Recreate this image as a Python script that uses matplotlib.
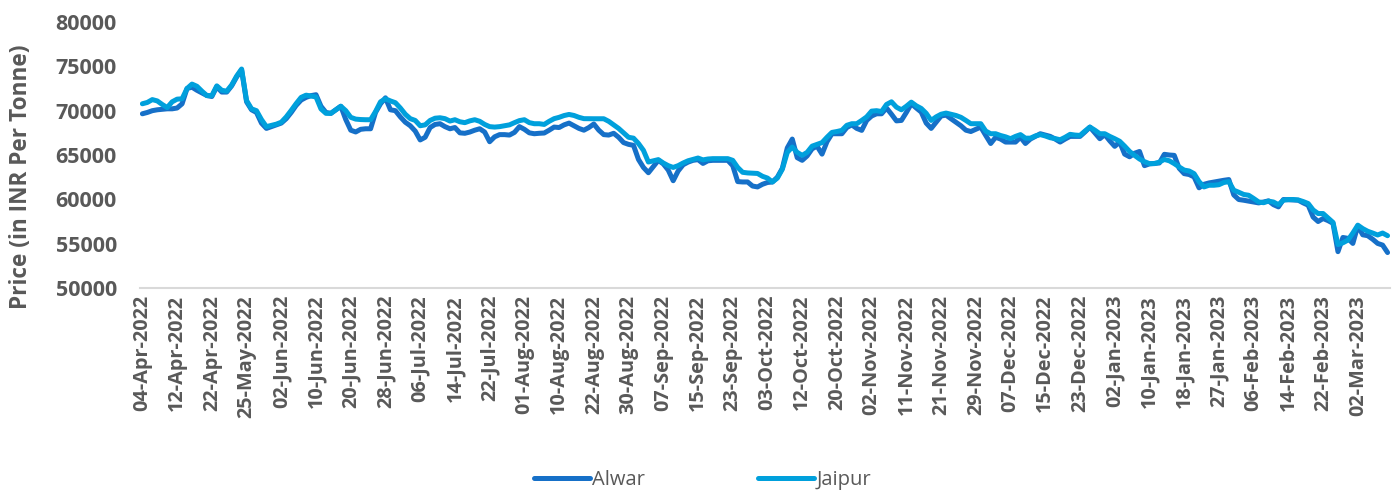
"""
Alwar vs Jaipur daily price, Apr-2022 to Mar-2023 (values read off the reference chart).
"""

import matplotlib
matplotlib.use("Agg")
import matplotlib.pyplot as plt

# ─── Data ─────────────────────────────────────────────────────────────────────
# one value per trading day (252 days), tick labels on every 7th day
TICK_LABELS = [
    "04-Apr-2022", "12-Apr-2022", "22-Apr-2022", "25-May-2022", "02-Jun-2022",
    "10-Jun-2022", "20-Jun-2022", "28-Jun-2022", "06-Jul-2022", "14-Jul-2022",
    "22-Jul-2022", "01-Aug-2022", "10-Aug-2022", "22-Aug-2022", "30-Aug-2022",
    "07-Sep-2022", "15-Sep-2022", "23-Sep-2022", "03-Oct-2022", "12-Oct-2022",
    "20-Oct-2022", "02-Nov-2022", "11-Nov-2022", "21-Nov-2022", "29-Nov-2022",
    "07-Dec-2022", "15-Dec-2022", "23-Dec-2022", "02-Jan-2023", "10-Jan-2023",
    "18-Jan-2023", "27-Jan-2023", "06-Feb-2023", "14-Feb-2023", "22-Feb-2023",
    "02-Mar-2023",
]
TICK_EVERY = 7

alwar = [
    69650, 69800, 70000, 70100, 70150, 70210, 70210, 70300, 70775, 72500,
    72650, 72300, 72000, 71710, 71600, 72700, 72100, 72100, 72800, 73800,
    74600, 71000, 70100, 69800, 68600, 68000, 68200, 68400, 68600, 69100,
    69800, 70600, 71200, 71500, 71700, 71800, 70500, 69800, 69700, 70100,
    70500, 69000, 67800, 67600, 67900, 67960, 67960, 69800, 70780, 71450,
    70100, 70000, 69300, 68700, 68300, 67700, 66700, 67000, 68100, 68450,
    68530, 68200, 67960, 68100, 67500, 67450, 67590, 67800, 67960, 67590,
    66500, 67050, 67300, 67300, 67250, 67550, 68200, 67900, 67500, 67400,
    67450, 67480, 67800, 68150, 68100, 68400, 68600, 68300, 68000, 67800,
    68100, 68500, 67800, 67300, 67250, 67450, 67000, 66400, 66200, 66090,
    64500, 63600, 63000, 63700, 64400, 64000, 63300, 62100, 63200, 63900,
    64200, 64400, 64480, 64050, 64350, 64400, 64400, 64400, 64400, 63800,
    62000, 61960, 61960, 61500, 61400, 61700, 61900, 61960, 62500, 63500,
    65800, 66800, 64700, 64400, 64900, 65700, 66000, 65100, 66500, 67400,
    67400, 67400, 68100, 68400, 68000, 67780, 68900, 69400, 69650, 69650,
    70300, 69600, 68850, 68900, 69800, 70780, 70300, 69840, 68600, 68000,
    68700, 69400, 69500, 69090, 68700, 68300, 67800, 67650, 67900, 68150,
    67210, 66300, 67000, 66800, 66460, 66460, 66460, 67000, 66300, 66800,
    67100, 67400, 67250, 67100, 66800, 66460, 66800, 67100, 67100, 67100,
    67600, 68150, 67500, 66840, 67300, 66600, 65980, 66460, 65100, 64800,
    65200, 65400, 63800, 64000, 64050, 64100, 65080, 65000, 64960, 63500,
    62900, 62800, 62530, 61300, 61700, 61850, 61950, 62050, 62150, 62230,
    60500, 59980, 59900, 59800, 59710, 59600, 59700, 59830, 59400, 59150,
    59980, 59950, 59920, 59900, 59600, 59340, 58000, 57500, 57840, 57600,
    57300, 54100, 55700, 55600, 55030, 57000, 56000, 55900, 55500, 55030,
    54840, 54000,
]

jaipur = [
    70780, 70930, 71250, 71100, 70700, 70350, 71000, 71300, 71340, 72500,
    73000, 72750, 72200, 71700, 71700, 72800, 72300, 72200, 72900, 73900,
    74700, 71150, 70210, 70000, 69000, 68200, 68340, 68480, 68700, 69300,
    70030, 70800, 71500, 71750, 71650, 71550, 70200, 69700, 69700, 70100,
    70500, 70000, 69250, 69050, 69000, 68980, 68980, 69900, 71000, 71340,
    71100, 70900, 70300, 69600, 69100, 68900, 68300, 68400, 68900, 69150,
    69200, 69100, 68830, 68980, 68750, 68650, 68850, 68980, 68800, 68450,
    68200, 68150, 68200, 68300, 68400, 68650, 68880, 68980, 68650, 68530,
    68530, 68450, 68800, 69100, 69250, 69450, 69575, 69460, 69250, 69100,
    69090, 69090, 69090, 69090, 68800, 68400, 68000, 67500, 67000, 66900,
    66300, 65530, 64210, 64350, 64480, 64100, 63800, 63600, 63800, 64100,
    64350, 64500, 64660, 64450, 64550, 64590, 64590, 64590, 64590, 64400,
    63600, 63050, 62980, 62950, 62920, 62600, 62400, 61960, 62400, 63400,
    65300, 65900, 65300, 64960, 65300, 66000, 66200, 66400, 67000, 67550,
    67650, 67780, 68350, 68530, 68530, 68900, 69300, 69950, 70000, 69900,
    70700, 71000, 70400, 70100, 70500, 70960, 70550, 70250, 69700, 68900,
    69300, 69600, 69730, 69600, 69460, 69250, 68900, 68530, 68530, 68530,
    67700, 67400, 67400, 67200, 67050, 66840, 67100, 67300, 66900, 66900,
    67150, 67300, 67150, 66950, 66850, 66720, 67000, 67330, 67250, 67210,
    67700, 68150, 67800, 67400, 67400, 67100, 66840, 66550, 66000, 65400,
    64960, 64550, 64250, 64030, 64030, 64200, 64500, 64350, 64030, 63650,
    63300, 63200, 62900, 62000, 61400, 61590, 61590, 61650, 61900, 62000,
    61030, 60800, 60550, 60460, 60100, 59710, 59620, 59800, 59700, 59400,
    59900, 59980, 59980, 59930, 59750, 59530, 58800, 58400, 58400, 57900,
    57400, 54900, 55100, 55400, 56200, 57090, 56700, 56400, 56200, 55980,
    56200, 55900,
]

assert len(alwar) == len(jaipur) == len(TICK_LABELS) * TICK_EVERY

# ─── Style ────────────────────────────────────────────────────────────────────
ALWAR_C = "#1670C8"
JAIPUR_C = "#00A0DC"
TEXT_C = "#595959"
plt.rcParams["font.family"] = ["Open Sans", "DejaVu Sans"]

fig = plt.figure(figsize=(13.99, 4.97), dpi=100)
ax = fig.add_axes([0.100, 0.4205, 0.8936, 0.5352])

x = range(len(alwar))
ax.plot(x, alwar, color=ALWAR_C, lw=3.6, solid_capstyle="round", label="Alwar")
ax.plot(x, jaipur, color=JAIPUR_C, lw=3.6, solid_capstyle="round", label="Jaipur")

ax.set_xlim(-0.5, len(alwar) - 0.5)
ax.set_ylim(50000, 80000)
ax.set_yticks(range(50000, 80001, 5000))
ax.set_xticks(range(0, len(alwar), TICK_EVERY))
ax.set_xticklabels(TICK_LABELS, rotation=90)

for lbl in ax.get_xticklabels():
    lbl.set_fontsize(14.3)
    lbl.set_fontweight("bold")
    lbl.set_color(TEXT_C)
for lbl in ax.get_yticklabels():
    lbl.set_fontsize(15.5)
    lbl.set_fontweight("bold")
    lbl.set_color(TEXT_C)
ax.tick_params(axis="both", length=0)
ax.tick_params(axis="x", pad=5)
ax.tick_params(axis="y", pad=16.5)

for side in ["top", "right", "left"]:
    ax.spines[side].set_visible(False)
ax.spines["bottom"].set_color("#D9D9D9")
ax.spines["bottom"].set_linewidth(1.5)

# label sits a bit below the plot centre, as in the original
ax.set_ylabel("Price (in INR Per Tonne)", fontsize=16.3, fontweight="bold",
              color=TEXT_C)
ax.yaxis.set_label_coords(-0.0856, 0.417)

leg = fig.legend(loc="lower center", bbox_to_anchor=(0.502, -0.022), ncol=2,
                 frameon=False, fontsize=14.5, handlelength=2.8,
                 handletextpad=0.1, columnspacing=5.6)
for t in leg.get_texts():
    t.set_color(TEXT_C)

plt.savefig("out.png", dpi=100)
plt.close()
